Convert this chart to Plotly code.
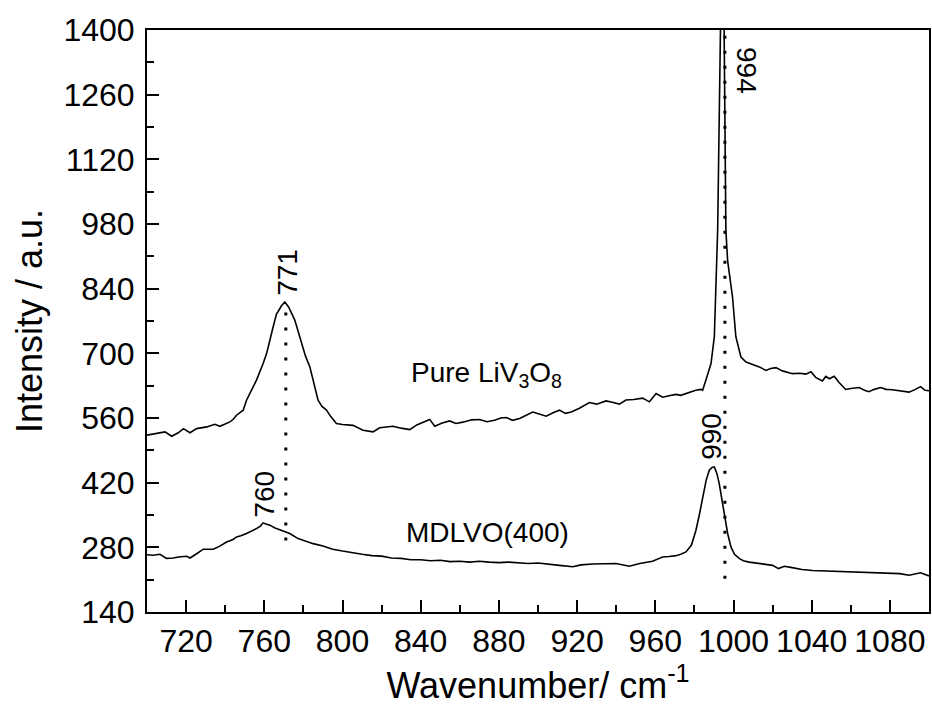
import plotly.graph_objects as go

# ---- data ----
pure_x = [700, 703, 706.6, 709.2, 712.6, 716, 718.6, 722, 725.4, 730.5, 734.7, 737.3, 742.4, 744, 745.8,
          749.2, 750.9, 753.5, 756, 759.4, 761.2, 764.5, 766.3, 767, 768.8, 770.5, 772.5, 775.6, 779, 781,
          783.3, 785.5, 787.5, 789.5, 791.8, 794, 796.9, 800, 805.4, 810.5, 815.6, 819, 822, 825.8, 830,
          834.4, 838, 841, 844.6, 847.2, 851, 854.8, 858, 861.6, 866, 870, 874, 877.7, 881, 883.8, 887,
          890.6, 894, 897.3, 901, 904.2, 908, 911, 914, 917, 921.2, 926.3, 930, 934.8, 938, 941.6, 945,
          949, 953.5, 957, 960.4, 963.8, 967, 970.6, 973, 975.7, 978, 980.7, 983.3, 984.2, 985.9, 988.5,
          990.2, 991, 991.9, 992.5, 993, 994, 995, 995.6, 996.1, 997, 998.2, 999.5, 1001.2, 1003.8, 1006.4,
          1010, 1013.2, 1016.6,
          1019, 1021.7, 1025, 1030.2, 1034, 1037, 1039.6, 1042, 1045.5, 1047.2, 1049, 1051.5, 1054, 1057.4,
          1060, 1064.2, 1067, 1069.3, 1072, 1075.3, 1078, 1081.2, 1085, 1089.8, 1093, 1095.7, 1098, 1100]
pure_y = [523, 525, 528, 530, 520.5, 528, 537, 528, 537, 540.7, 546.5, 542, 551.6, 556.7, 566,
          577, 598.5, 620, 642, 678, 700, 757, 786, 790, 803, 811, 800, 772, 721, 695,
          670.6, 635, 598.5, 585, 577, 563, 548, 546, 544, 533.5, 530, 539, 540, 542, 538,
          535, 545, 550, 557, 542, 549, 553.7, 548, 551, 556, 556.7, 552, 555, 560, 561, 555,
          559, 566, 573, 568, 564, 572, 577, 570, 573, 581, 593.5, 590, 597, 594, 590, 599,
          600, 603, 595, 613, 605, 608, 611, 609, 613, 616, 620, 622, 620, 642, 678,
          736, 830, 967, 1150, 1350, 1600, 1500, 1250, 966, 900, 860, 822, 736, 692, 681,
          675, 670.6, 663,
          667, 669, 662, 656, 657, 655, 660, 648, 640, 650, 645, 650.5, 637, 621.7,
          624, 626, 620, 617, 622, 626, 622, 621, 619, 616, 622, 628, 620, 619]

mdlvo_x = [700, 703, 706.6, 710, 713.5, 716, 720.3, 722, 725, 728.8, 733.9, 737, 740.7, 744, 745.8, 748,
           750.9, 753, 756, 758, 759.4, 760.5, 762.8, 765.5, 769.6, 773, 777.3, 781, 785, 790, 795, 800,
           805, 810, 815, 820, 825, 830, 835, 840, 845, 850, 855, 860, 865, 870, 875, 880, 885, 890, 895,
           900, 905, 911, 917.8, 922, 928, 934, 939.9, 946.7, 952, 958.6, 963.7, 967, 970.6, 973, 975.7,
           978.5, 980.8, 982.5, 984.2, 986, 987.6, 989, 990.2, 991.5, 992.7, 994, 995.3, 997, 998.7,
           1000.5, 1002.9, 1005, 1008, 1012, 1016, 1020, 1023, 1026, 1030, 1035, 1040.4, 1047, 1055.7,
           1063, 1072.8, 1080, 1085, 1089.8, 1095.7, 1100]
mdlvo_y = [264, 263, 265, 256, 257, 259, 260.6, 257, 265, 276, 276, 282, 291.6, 297, 302.5, 305,
           310, 314, 320.6, 326, 333, 331, 328, 322, 315.4, 310, 299, 294, 288, 283, 276, 272,
           268, 265, 262, 261, 257, 256, 253, 253, 251, 252, 249, 250, 248, 250, 248, 247, 248, 246, 245,
           246, 243, 241, 238, 242, 244, 244, 245, 239, 245, 250, 259, 260, 262, 265, 270,
           285, 317, 350, 389, 425, 447, 453, 454, 440, 418, 385, 353, 310, 281,
           265, 256, 251, 248, 246, 243, 241, 234, 239, 236, 232, 230, 229, 227,
           227, 226, 224, 223, 219.5, 225, 218]

# dotted guide lines (x position, y from, y to)
guide_x = [771, 995.6]
guide_y0 = [295, 212]
guide_y1 = [811, 1400]

# peak labels
peak_labels = ["771", "760", "994", "990"]
peak_lab_x = [771.5, 760.3, 1007, 988.4]
peak_lab_y = [876, 396, 1313, 521]
peak_lab_angle = [-90, -90, 90, -90]

series_names = ["Pure LiV<sub>3</sub>O<sub>8</sub>", "MDLVO(400)"]
series_lab_x = [873.4, 874]
series_lab_y = [655, 312]

x_range = [700, 1100]
y_range = [140, 1400]

FONT = "Liberation Sans, Arial, sans-serif"

fig = go.Figure()
fig.add_trace(go.Scatter(x=pure_x, y=pure_y, mode="lines",
                         line=dict(color="black", width=1.6), showlegend=False))
fig.add_trace(go.Scatter(x=mdlvo_x, y=mdlvo_y, mode="lines",
                         line=dict(color="black", width=1.6), showlegend=False))
for gx, g0, g1 in zip(guide_x, guide_y0, guide_y1):
    fig.add_trace(go.Scatter(x=[gx, gx], y=[g0, g1], mode="lines",
                             line=dict(color="black", width=3, dash="3px,12px"),
                             showlegend=False))

for t, ax_, ay_, ang in zip(peak_labels, peak_lab_x, peak_lab_y, peak_lab_angle):
    fig.add_annotation(x=ax_, y=ay_, text=t, textangle=ang, showarrow=False,
                       font=dict(family=FONT, size=28, color="black"))
for t, ax_, ay_ in zip(series_names, series_lab_x, series_lab_y):
    fig.add_annotation(x=ax_, y=ay_, text=t, showarrow=False,
                       font=dict(family=FONT, size=28, color="black"))

fig.update_layout(
    width=932, height=715,
    margin=dict(l=147, r=1, t=30, b=103),
    paper_bgcolor="white", plot_bgcolor="white",
    font=dict(family=FONT, color="black"),
    showlegend=False,
)
fig.update_xaxes(
    range=x_range, tick0=0, dtick=40, ticks="inside", ticklen=12, tickwidth=2,
    tickcolor="black", showline=True, linecolor="black", linewidth=2, mirror=True,
    showgrid=False, zeroline=False,
    tickfont=dict(family=FONT, size=32, color="black"),
    minor=dict(dtick=20, tick0=0, ticks="inside", ticklen=7, tickwidth=2, tickcolor="black", showgrid=False),
    title=dict(text="Wavenumber/ cm<sup>-1</sup>", font=dict(family=FONT, size=36, color="black"), standoff=10),
)
fig.update_yaxes(
    range=y_range, tick0=0, dtick=140, ticks="inside", ticklen=12, tickwidth=2,
    tickcolor="black", showline=True, linecolor="black", linewidth=2, mirror=True,
    showgrid=False, zeroline=False, ticklabelstandoff=4,
    tickfont=dict(family=FONT, size=32, color="black"),
    minor=dict(dtick=70, tick0=0, ticks="inside", ticklen=7, tickwidth=2, tickcolor="black", showgrid=False),
    title=dict(text="Intensity / a.u.", font=dict(family=FONT, size=36, color="black"), standoff=10),
)

fig.write_html("out.html")
